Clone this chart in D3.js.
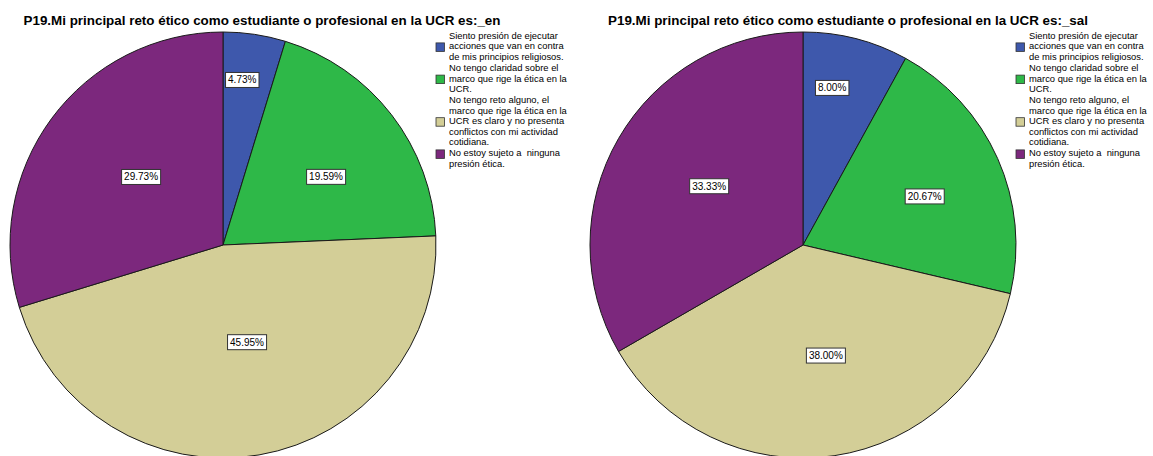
<!DOCTYPE html>
<html>
<head>
<meta charset="utf-8">
<script src="https://cdn.jsdelivr.net/npm/d3@7"></script>
<style>
  html, body { margin: 0; padding: 0; background: #fff; }
  svg { display: block; font-family: "Liberation Sans", Arial, sans-serif; }
  text { white-space: pre; }
</style>
</head>
<body>
<svg id="chart" width="1153" height="456"></svg>
<script>
// Response categories (legend text, pre-wrapped into lines)
const categories = [
  ["Siento presión de ejecutar", "acciones que van en contra", "de mis principios religiosos."],
  ["No tengo claridad sobre el", "marco que rige la ética en la", "UCR."],
  ["No tengo reto alguno, el", "marco que rige la ética en la", "UCR es claro y no presenta", "conflictos con mi actividad", "cotidiana."],
  ["No estoy sujeto a  ninguna", "presión ética."]
];

// Percentages per group
const valuesEn  = [4.73, 19.59, 45.95, 29.73];
const valuesSal = [8.00, 20.67, 38.00, 33.33];

const titles = [
  "P19.Mi principal reto ético como estudiante o profesional en la UCR es:_en",
  "P19.Mi principal reto ético como estudiante o profesional en la UCR es:_sal"
];

const sliceColors = ["#3E58AC", "#2EB848", "#D3CE97", "#7C287D"];

// Where each value label sits: [fraction across the slice's angle, fraction of radius]
const labelSpotsEn  = [[0.39, 0.78], [0.56, 0.58], [0.475, 0.47], [0.53, 0.50]];
const labelSpotsSal = [[0.365, 0.75], [0.53, 0.615], [0.476, 0.53], [0.517, 0.52]];

const svg = d3.select("#chart");
const radius = 213;

const panels = [
  { title: titles[0], values: valuesEn,  spots: labelSpotsEn,  cx: 223, cy: 245, titleX: 262, legendX: 436 },
  { title: titles[1], values: valuesSal, spots: labelSpotsSal, cx: 803, cy: 245, titleX: 848, legendX: 1016 }
];

const color = d3.scaleOrdinal().domain(d3.range(categories.length)).range(sliceColors);
const pie = d3.pie().sort(null).value(d => d);
const arc = d3.arc().innerRadius(0).outerRadius(radius);

panels.forEach(p => {
  const g = svg.append("g");

  // Title
  g.append("text")
    .attr("x", p.titleX)
    .attr("y", 25)
    .attr("text-anchor", "middle")
    .attr("font-size", "13.4px")
    .attr("font-weight", "bold")
    .attr("fill", "#000")
    .text(p.title);

  // Pie slices
  const pg = g.append("g").attr("transform", `translate(${p.cx},${p.cy})`);
  const arcs = pie(p.values);
  pg.selectAll("path")
    .data(arcs)
    .join("path")
    .attr("d", arc)
    .attr("fill", (d, i) => color(i))
    .attr("stroke", "#1a1a1a")
    .attr("stroke-width", 1);

  // Value labels in boxes
  const lab = pg.selectAll("g.lab")
    .data(arcs)
    .join("g")
    .attr("class", "lab")
    .attr("transform", (d, i) => {
      const [fa, fr] = p.spots[i];
      const a = d.startAngle + (d.endAngle - d.startAngle) * fa;
      const r = radius * fr;
      return `translate(${r * Math.sin(a)},${-r * Math.cos(a)})`;
    });

  lab.append("text")
    .attr("text-anchor", "middle")
    .attr("dy", "0.35em")
    .attr("font-size", "10px")
    .attr("fill", "#000")
    .text(d => d.data.toFixed(2) + "%");

  lab.each(function () {
    const node = d3.select(this);
    const bb = node.select("text").node().getBBox();
    const padX = 2.5;
    node.insert("rect", "text")
      .attr("x", bb.x - padX)
      .attr("y", -7.5)
      .attr("width", bb.width + 2 * padX)
      .attr("height", 15)
      .attr("fill", "#fff")
      .attr("stroke", "#333")
      .attr("stroke-width", 1);
  });

  // Legend
  const lineH = 10.4;
  const itemGap = 1;
  let y = 39;
  const lg = g.append("g");
  categories.forEach((lines, i) => {
    const item = lg.append("g");
    const mid = Math.floor((lines.length - 1) / 2);
    item.append("rect")
      .attr("x", p.legendX)
      .attr("y", y + mid * lineH - 6.5)
      .attr("width", 8.5)
      .attr("height", 8.5)
      .attr("fill", color(i))
      .attr("stroke", "#333")
      .attr("stroke-width", 0.8);
    const t = item.append("text")
      .attr("x", p.legendX + 13)
      .attr("y", y)
      .attr("font-size", "9.4px")
      .attr("fill", "#000");
    lines.forEach((ln, k) => {
      t.append("tspan")
        .attr("x", p.legendX + 13)
        .attr("y", y + k * lineH)
        .text(ln);
    });
    y += lines.length * lineH + itemGap;
  });
});
</script>
</body>
</html>
